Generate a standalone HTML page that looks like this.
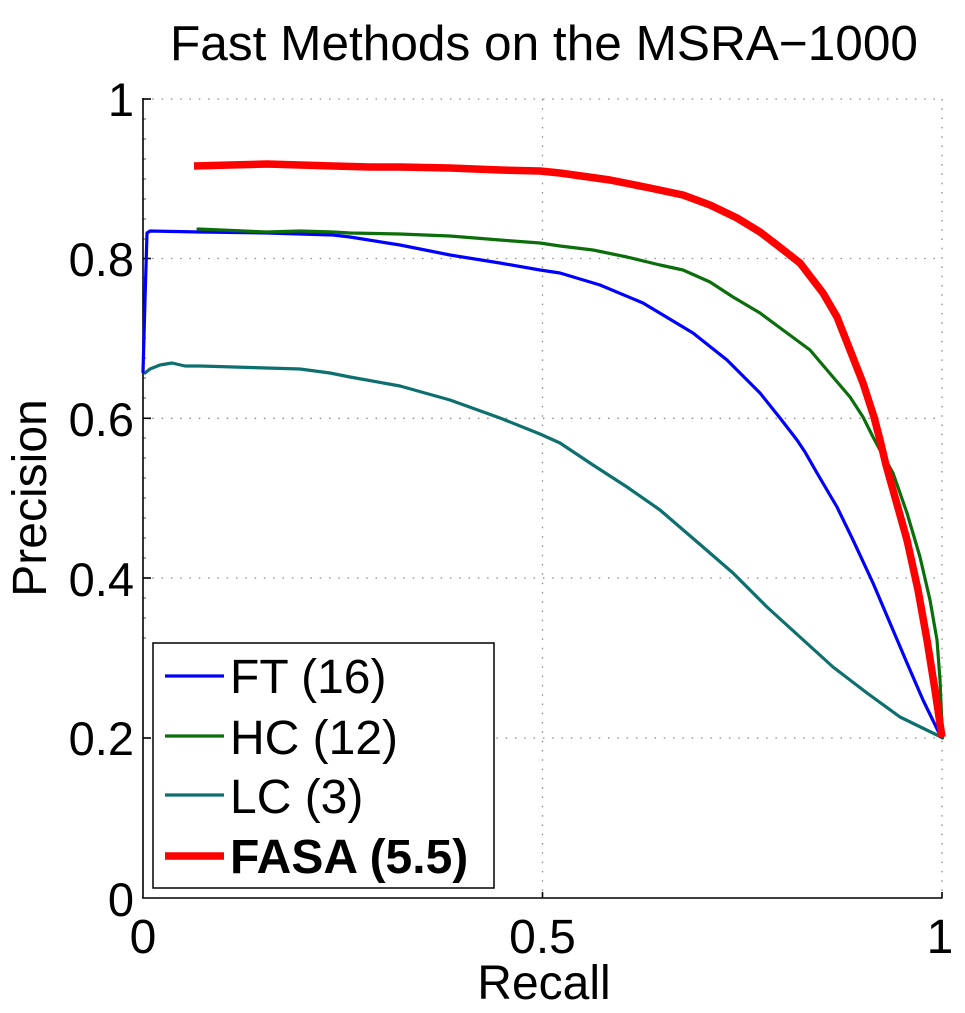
<!DOCTYPE html>
<html>
<head>
<meta charset="utf-8">
<style>
  html, body { margin: 0; padding: 0; background: #fff; }
  svg { display: block; }
  text { font-family: "Liberation Sans", Arial, sans-serif; fill: #000; }
</style>
</head>
<body>
<svg width="965" height="1013" viewBox="0 0 965 1013" xmlns="http://www.w3.org/2000/svg">
  <rect x="0" y="0" width="965" height="1013" fill="#fff"/>

  <!-- Title -->
  <text x="544" y="60" font-size="49.5" text-anchor="middle" textLength="748" lengthAdjust="spacingAndGlyphs">Fast Methods on the MSRA−1000</text>

  <!-- Grid (dotted) -->
  <g stroke="#8a8a8a" stroke-width="1.3" stroke-dasharray="1.5 7.8" fill="none">
    <line x1="143" y1="99" x2="942" y2="99"/>
    <line x1="143" y1="258.5" x2="942" y2="258.5"/>
    <line x1="143" y1="418.3" x2="942" y2="418.3"/>
    <line x1="143" y1="578" x2="942" y2="578"/>
    <line x1="143" y1="738" x2="942" y2="738"/>
    <line x1="542.5" y1="99" x2="542.5" y2="898"/>
    <line x1="942" y1="99" x2="942" y2="898"/>
  </g>

  <!-- Minor ticks on left axis -->
  <g stroke="#555" stroke-width="1">
    <line x1="143" y1="119" x2="146" y2="119"/><line x1="143" y1="139" x2="146" y2="139"/>
    <line x1="143" y1="159" x2="146" y2="159"/><line x1="143" y1="179" x2="146" y2="179"/>
    <line x1="143" y1="199" x2="146" y2="199"/><line x1="143" y1="219" x2="146" y2="219"/>
    <line x1="143" y1="239" x2="146" y2="239"/><line x1="143" y1="278" x2="146" y2="278"/>
    <line x1="143" y1="298" x2="146" y2="298"/><line x1="143" y1="318" x2="146" y2="318"/>
    <line x1="143" y1="338" x2="146" y2="338"/><line x1="143" y1="358" x2="146" y2="358"/>
    <line x1="143" y1="378" x2="146" y2="378"/><line x1="143" y1="398" x2="146" y2="398"/>
    <line x1="143" y1="438" x2="146" y2="438"/><line x1="143" y1="458" x2="146" y2="458"/>
    <line x1="143" y1="478" x2="146" y2="478"/><line x1="143" y1="498" x2="146" y2="498"/>
    <line x1="143" y1="518" x2="146" y2="518"/><line x1="143" y1="538" x2="146" y2="538"/>
    <line x1="143" y1="558" x2="146" y2="558"/><line x1="143" y1="598" x2="146" y2="598"/>
    <line x1="143" y1="618" x2="146" y2="618"/><line x1="143" y1="638" x2="146" y2="638"/>
  </g>

  <!-- Axes -->
  <g stroke="#000" stroke-width="1.6" fill="none">
    <line x1="143" y1="98" x2="143" y2="898.5"/>
    <line x1="142.2" y1="898" x2="942.5" y2="898"/>
    <!-- major y ticks -->
    <line x1="143" y1="99" x2="151" y2="99"/>
    <line x1="143" y1="258.5" x2="151" y2="258.5"/>
    <line x1="143" y1="418.3" x2="151" y2="418.3"/>
    <line x1="143" y1="578" x2="151" y2="578"/>
    <line x1="143" y1="738" x2="151" y2="738"/>
    <!-- major x ticks -->
    <line x1="542.5" y1="898" x2="542.5" y2="892"/>
    <line x1="942" y1="898" x2="942" y2="892"/>
  </g>

  <!-- Y tick labels -->
  <g font-size="47" text-anchor="end">
    <text x="134" y="116">1</text>
    <text x="134" y="276">0.8</text>
    <text x="134" y="436">0.6</text>
    <text x="134" y="596">0.4</text>
    <text x="134" y="755">0.2</text>
    <text x="134" y="916">0</text>
  </g>
  <!-- X tick labels -->
  <g font-size="48" text-anchor="middle">
    <text x="143" y="953">0</text>
    <text x="542.5" y="953">0.5</text>
    <text x="940" y="953">1</text>
  </g>

  <!-- Axis labels -->
  <text x="544" y="999" font-size="48" text-anchor="middle">Recall</text>
  <text transform="translate(46,498) rotate(-90)" font-size="48" text-anchor="middle">Precision</text>

  <!-- Curves -->
  <g fill="none" stroke-linejoin="round" stroke-linecap="round">
    <!-- LC teal -->
    <polyline stroke="#0e6f6f" stroke-width="3.2" points="145,373 150,369 160,365 172,363 185,366 200,366 267,368 300,369 330,373 350,377 400,386 450,400 500,418 540,434 560,443 593,465 627,487 660,510 703,547 733,573 767,607 800,637 833,667 867,693 900,717 941,737"/>
    <!-- FT blue -->
    <polyline stroke="#0000ff" stroke-width="3.2" points="143,372 145,300 147,233 150,231 200,232 267,233 333,235 350,237 400,245 450,255 500,263 540,270 560,273 600,285 643,303 693,333 727,360 760,393 780,418 797,440 805,452 817,473 837,507 853,540 873,583 890,623 907,663 923,700 941,737"/>
    <!-- HC green -->
    <polyline stroke="#0b6e0b" stroke-width="3.2" points="198,229 267,232 300,231 333,232 350,233 400,234 450,236 500,240 540,243 560,246 593,250 627,257 660,265 683,270 710,282 733,297 760,313 787,333 810,350 827,370 850,397 863,417 873,437 880,450 893,473 907,513 920,557 930,600 937,640 940,680 942.5,738"/>
    <!-- FASA red -->
    <polyline stroke="#ff0000" stroke-width="7.5" stroke-linecap="butt" points="194,166 230,165 267,164 300,165 333,166 370,167 400,167 450,168 500,170 540,171 560,173 610,180 650,188 683,195 710,205 737,218 760,232 777,245 800,263 823,293 837,317 850,350 863,383 874,417 880,440 886,465 893,490 907,540 918,590 927,640 935,690 942,737"/>
  </g>

  <!-- Legend -->
  <rect x="153" y="643" width="341" height="245" fill="#fff" stroke="#000" stroke-width="1.5"/>
  <line x1="165" y1="676" x2="224" y2="676" stroke="#0000ff" stroke-width="3.2"/>
  <line x1="165" y1="736" x2="224" y2="736" stroke="#0b6e0b" stroke-width="3.2"/>
  <line x1="165" y1="795" x2="224" y2="795" stroke="#0e6f6f" stroke-width="3.2"/>
  <line x1="165" y1="856" x2="224" y2="856" stroke="#ff0000" stroke-width="7.5"/>
  <g font-size="48">
    <text x="230" y="693">FT (16)</text>
    <text x="230" y="754">HC (12)</text>
    <text x="230" y="813">LC (3)</text>
    <text x="230" y="873" font-weight="bold">FASA (5.5)</text>
  </g>
</svg>
</body>
</html>
